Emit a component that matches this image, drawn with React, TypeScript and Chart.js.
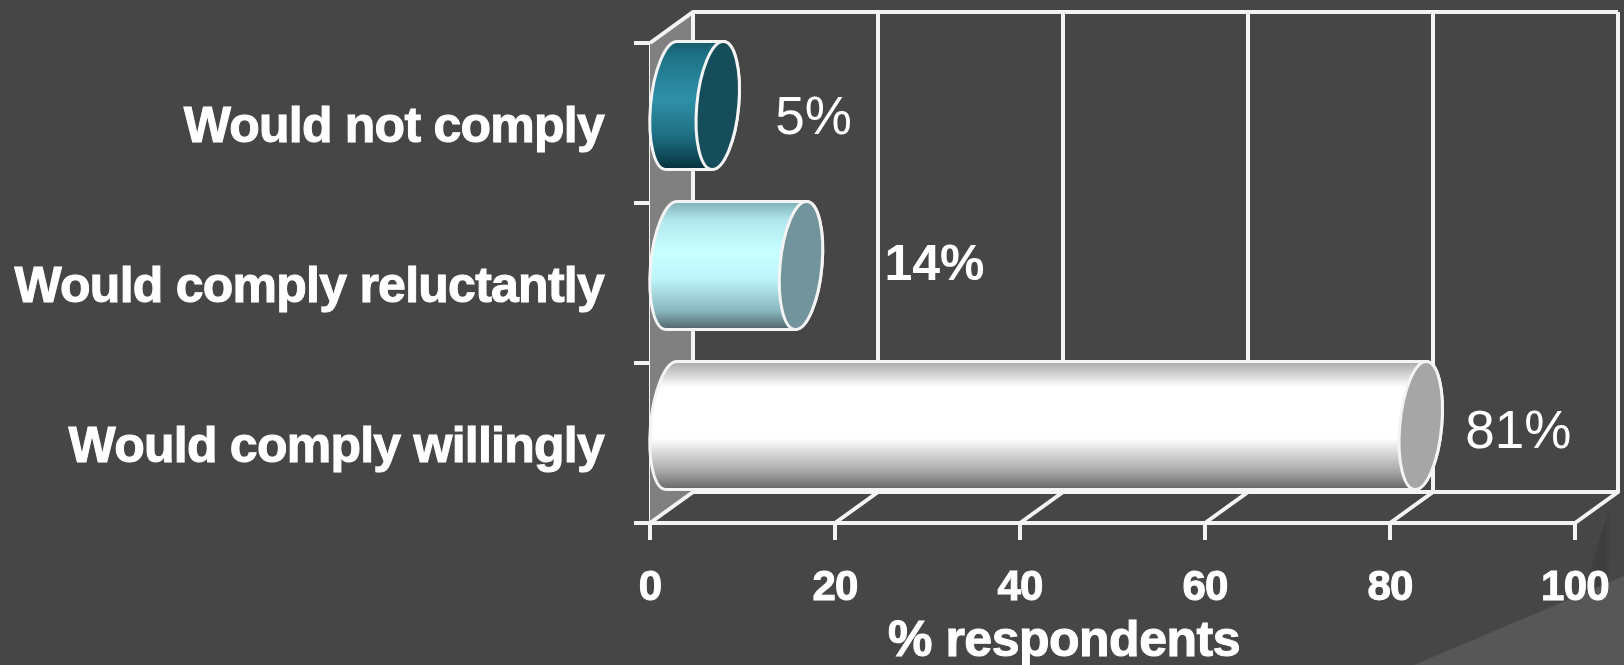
import React, { useEffect, useRef } from "react";
import { Chart, registerables } from "chart.js";

Chart.register(...registerables);

const categories = ["Would not comply", "Would comply reluctantly", "Would comply willingly"];
const respondents = [5, 14, 81];
const valueLabels = ["5%", "14%", "81%"];
const valueLabelBold = [false, true, false];
const valueLabelOffsets = [79, 105, 66];
const valueLabelCentres = [119, 266, 433];
const axisTitle = "% respondents";

const bodyStops: [number, string][][] = [
  [[0, "#175a6b"], [0.12, "#1f7488"], [0.45, "#2e90a8"], [0.75, "#1d6d80"], [1, "#06303c"]],
  [[0, "#7fb0b8"], [0.15, "#b2e8ee"], [0.4, "#c8ffff"], [0.6, "#bdf5fb"], [0.85, "#8cb8c0"], [1, "#4d6468"]],
  [[0, "#a8a8a8"], [0.2, "#ffffff"], [0.6, "#ffffff"], [0.85, "#aaaaaa"], [1, "#666666"]],
];
const capColours = ["#154e5a", "#72949c", "#a6a6a6"];

const PAGE = "#464646";
const DEPTH_X = 43;
const DEPTH_Y = 31;
const SHEAR = 5.5;
const LINE = "#f4f4f4";
const FONT = "'Liberation Sans', Arial, sans-serif";
const TIGHT = "-0.75px";

function ellipsePath(ctx: CanvasRenderingContext2D, cx: number, cy: number, a: number, b: number, from: number, to: number) {
  ctx.save();
  ctx.transform(1, 0, -SHEAR / b, 1, cx, cy);
  ctx.ellipse(0, 0, a, b, 0, from, to);
  ctx.restore();
}

const scenePlugin = {
  id: "scene3d",
  afterUpdate(chart: Chart) {
    // Category labels sit a little below the tick they belong to
    (chart.scales.y as any).getLabelItems(chart.chartArea).forEach((item: any) => {
      item.options.translation[1] += 5;
    });
  },
  beforeDraw(chart: Chart) {
    const { ctx, width, height } = chart;
    ctx.save();
    ctx.fillStyle = PAGE;
    ctx.fillRect(0, 0, width, height);
    // Soft shadow band and lighter wedge in the lower right corner of the backdrop
    const band = ctx.createLinearGradient(1570, 0, 1612, 0);
    band.addColorStop(0, "rgba(60,60,60,0)");
    band.addColorStop(0.8, "rgba(60,60,60,0.9)");
    band.addColorStop(1, "rgba(60,60,60,0)");
    ctx.fillStyle = band;
    ctx.beginPath();
    ctx.moveTo(1612, 500);
    ctx.lineTo(1624, 500);
    ctx.lineTo(1590, 665);
    ctx.lineTo(1560, 665);
    ctx.closePath();
    ctx.fill();
    ctx.fillStyle = "#575757";
    ctx.beginPath();
    ctx.moveTo(1414, height);
    ctx.lineTo(width, 576);
    ctx.lineTo(width, height);
    ctx.closePath();
    ctx.fill();
    ctx.restore();
    // Axis text is set slightly condensed
    (ctx as any).letterSpacing = TIGHT;
  },
  beforeDatasetsDraw(chart: Chart) {
    const { ctx, chartArea: ca, scales } = chart;
    const x = scales.x;
    ctx.save();
    // Left wall
    ctx.fillStyle = "#808080";
    ctx.beginPath();
    ctx.moveTo(ca.left, ca.top);
    ctx.lineTo(ca.left + DEPTH_X, ca.top - DEPTH_Y);
    ctx.lineTo(ca.left + DEPTH_X, ca.bottom - DEPTH_Y);
    ctx.lineTo(ca.left, ca.bottom);
    ctx.closePath();
    ctx.fill();

    ctx.strokeStyle = LINE;
    ctx.lineWidth = 4;
    ctx.lineJoin = "miter";
    // Back wall frame and floor edge
    ctx.beginPath();
    ctx.moveTo(ca.left, ca.top);
    ctx.lineTo(ca.left + DEPTH_X, ca.top - DEPTH_Y);
    ctx.lineTo(ca.right + DEPTH_X, ca.top - DEPTH_Y);
    ctx.moveTo(ca.left + DEPTH_X, ca.bottom - DEPTH_Y);
    ctx.lineTo(ca.right + DEPTH_X, ca.bottom - DEPTH_Y);
    ctx.stroke();
    // Gridlines up the back wall and across the floor
    x.ticks.forEach((t) => {
      const px = x.getPixelForValue(t.value);
      ctx.beginPath();
      ctx.moveTo(px, ca.bottom);
      ctx.lineTo(px + DEPTH_X, ca.bottom - DEPTH_Y);
      ctx.lineTo(px + DEPTH_X, ca.top - DEPTH_Y);
      ctx.stroke();
    });
    ctx.restore();
  },
  afterDatasetsDraw(chart: Chart) {
    const { ctx, chartArea: ca, scales } = chart;
    const bars = chart.getDatasetMeta(0).data as any[];
    const base = scales.x.getPixelForValue(0);
    bars.forEach((bar, i) => {
      const cy = bar.y - DEPTH_Y / 2 - 2;
      const b = bar.height / 2;
      const a = DEPTH_X / 2 - 0.5;
      const x0 = base + DEPTH_X / 2;
      const x1 = bar.x + DEPTH_X / 2;
      const grad = ctx.createLinearGradient(0, cy - b, 0, cy + b);
      bodyStops[i].forEach(([o, c]) => grad.addColorStop(o, c));

      ctx.save();
      ctx.lineWidth = 3;
      ctx.strokeStyle = LINE;
      // Body: rounded far end joined to the capped near end
      ctx.beginPath();
      ellipsePath(ctx, x0, cy, a, b, Math.PI / 2, (3 * Math.PI) / 2);
      ellipsePath(ctx, x1, cy, a, b, -Math.PI / 2, Math.PI / 2);
      ctx.closePath();
      ctx.fillStyle = grad;
      ctx.fill();
      ctx.stroke();
      // End cap
      ctx.beginPath();
      ellipsePath(ctx, x1, cy, a, b, 0, Math.PI * 2);
      ctx.closePath();
      ctx.fillStyle = capColours[i];
      ctx.fill();
      ctx.stroke();
      ctx.restore();

      // Value label beside the bar
      ctx.save();
      (ctx as any).letterSpacing = "0px";
      ctx.fillStyle = "#ffffff";
      ctx.font = `${valueLabelBold[i] ? "bold 50px" : "53px"} ${FONT}`;
      ctx.textAlign = "left";
      ctx.textBaseline = "middle";
      ctx.fillText(valueLabels[i], bar.x + valueLabelOffsets[i], valueLabelCentres[i]);
      ctx.restore();
    });

    // Axis caption, set left of the plot's centre
    ctx.save();
    ctx.fillStyle = "#ffffff";
    ctx.strokeStyle = "#ffffff";
    ctx.lineWidth = 1;
    ctx.font = `bold 50px ${FONT}`;
    (ctx as any).letterSpacing = "-0.5px";
    ctx.textAlign = "center";
    ctx.textBaseline = "alphabetic";
    ctx.strokeText(axisTitle, ca.left + 414, 656);
    ctx.fillText(axisTitle, ca.left + 414, 656);
    ctx.restore();
    (ctx as any).letterSpacing = "0px";
  },
};

export default function App() {
  const ref = useRef<HTMLCanvasElement>(null);
  useEffect(() => {
    document.body.style.margin = "0";
    document.body.style.background = PAGE;
    const chart = new Chart(ref.current!, {
      type: "bar",
      data: {
        labels: categories,
        datasets: [
          {
            label: "% respondents",
            data: respondents,
            backgroundColor: "rgba(0,0,0,0)",
            borderWidth: 0,
            barPercentage: 0.8,
            categoryPercentage: 1,
          },
        ],
      },
      options: {
        indexAxis: "y",
        animation: false,
        responsive: false,
        layout: { padding: { top: 43, right: 49, left: 0, bottom: 0 } },
        plugins: { legend: { display: false }, tooltip: { enabled: false }, title: { display: false } },
        scales: {
          x: {
            min: 0,
            max: 100,
            afterFit: (s: any) => { s.height = 142; s.paddingLeft = 0; s.paddingRight = 0; },
            border: { display: true, color: LINE, width: 4 },
            grid: { drawOnChartArea: false, drawTicks: true, tickLength: 17, color: LINE, lineWidth: 4 },
            ticks: {
              stepSize: 20,
              maxRotation: 0,
              color: "#ffffff",
              padding: 23,
              textStrokeColor: "#ffffff",
              textStrokeWidth: 1,
              font: { family: FONT, size: 42, weight: "bold" },
            },
          },
          y: {
            afterFit: (s: any) => { s.width = 650; s.paddingTop = 0; s.paddingBottom = 0; },
            border: { display: true, color: LINE, width: 3 },
            grid: { drawOnChartArea: false, drawTicks: true, tickLength: 16, color: LINE, lineWidth: 4 },
            ticks: {
              color: "#ffffff",
              padding: 30,
              textStrokeColor: "#ffffff",
              textStrokeWidth: 1,
              font: { family: FONT, size: 50, weight: "bold" },
            },
          },
        },
      },
      plugins: [scenePlugin],
    } as any);
    return () => chart.destroy();
  }, []);
  return <canvas ref={ref} width={1624} height={665} style={{ display: "block" }} />;
}
